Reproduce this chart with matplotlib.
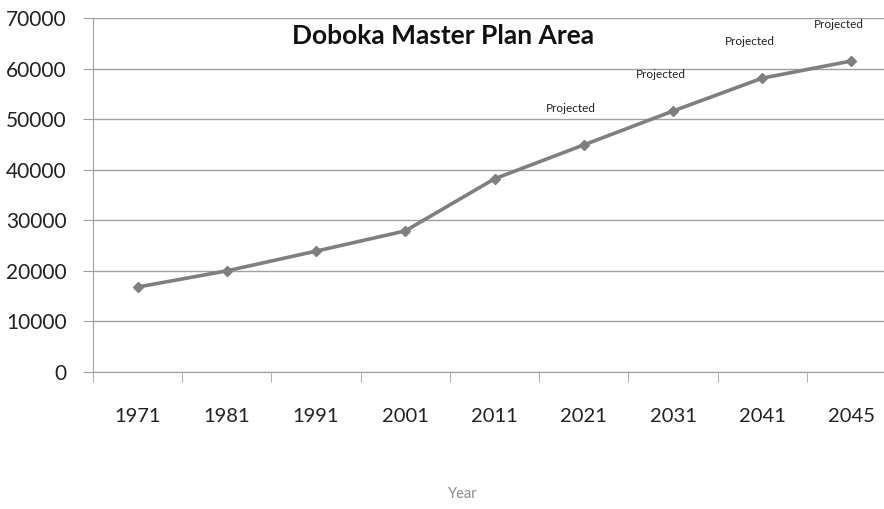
import matplotlib.pyplot as plt
import numpy as np

# data
years = ['1971', '1981', '1991', '2001', '2011', '2021', '2031', '2041', '2045']
population = [16800, 20000, 23900, 27900, 38200, 44900, 51600, 58100, 61500]
projected = [False, False, False, False, False, True, True, True, True]

plt.rcParams['font.family'] = ['Lato', 'DejaVu Sans']

fig = plt.figure(figsize=(8.84, 5.09), dpi=100)
ax = fig.add_axes([93/884, 137/509, 803/884, 354/509])

x = np.arange(len(years))
ax.plot(x, population, color='#7f7f7f', lw=2.6, marker='D', ms=5.5, zorder=3)

for xi, v, p in zip(x, population, projected):
    if p:
        ax.annotate('Projected', (xi, v), xytext=(-9, 26.5), textcoords='offset points',
                    fontsize=8.5, color='#222222', ha='center', va='center')

ax.set_xlim(-0.5, len(years) - 0.5)
ax.set_ylim(0, 70000)
ax.set_yticks(range(0, 70001, 10000))
ax.yaxis.grid(True, color='#a0a0a0', lw=1)
ax.set_axisbelow(True)

ax.set_xticks(x)
ax.set_xticklabels(years, fontsize=14.5, color='#222222')
ax.set_xticks(np.arange(-0.5, len(years), 1), minor=True)
ax.tick_params(axis='x', which='major', length=0, pad=26)
ax.tick_params(axis='x', which='minor', length=7, color='#a0a0a0')
ax.tick_params(axis='y', length=7, color='#a0a0a0', labelsize=15, labelcolor='#222222', pad=12)

for s in ['top', 'right']:
    ax.spines[s].set_visible(False)
ax.spines['left'].set_color('#a0a0a0')
ax.spines['bottom'].set_color('#a0a0a0')

ax.text(0.436, 0.95, 'Doboka Master Plan Area', transform=ax.transAxes,
        fontsize=19, fontweight='bold', ha='center', va='center', color='#111111')

fig.text(463/884, 1 - 494/509, 'Year', fontsize=10.5, color='#8a8a8a', ha='center', va='center')

fig.savefig('out.png', dpi=100)
